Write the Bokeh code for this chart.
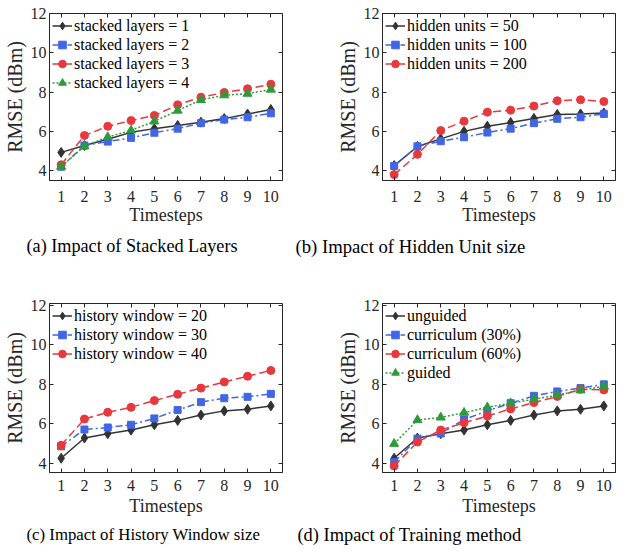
from bokeh.plotting import figure
from bokeh.models import Range1d, LinearAxis, Title, FixedTicker
from bokeh.layouts import column, row
from bokeh.embed import file_html
from bokeh.resources import INLINE

timesteps = [1, 2, 3, 4, 5, 6, 7, 8, 9, 10]
x_ticks = [1, 2, 3, 4, 5, 6, 7, 8, 9, 10]
y_ticks = [4, 6, 8, 10, 12]

# (a) stacked layers
layers_1 = [4.93, 5.28, 5.60, 5.95, 6.14, 6.30, 6.47, 6.65, 6.88, 7.11]
layers_2 = [4.20, 5.28, 5.48, 5.67, 5.93, 6.14, 6.42, 6.60, 6.72, 6.92]
layers_3 = [4.30, 5.79, 6.26, 6.55, 6.81, 7.35, 7.74, 7.98, 8.17, 8.40]
layers_4 = [4.21, 5.25, 5.71, 6.05, 6.51, 7.06, 7.60, 7.84, 7.92, 8.13]

# (b) hidden units
hidden_50 = [4.26, 5.23, 5.62, 6.00, 6.26, 6.45, 6.66, 6.86, 6.89, 6.94]
hidden_100 = [4.24, 5.24, 5.50, 5.70, 5.94, 6.14, 6.42, 6.64, 6.72, 6.89]
hidden_200 = [3.80, 4.83, 6.04, 6.52, 6.98, 7.08, 7.29, 7.56, 7.61, 7.52]

# (c) history window
window_20 = [4.27, 5.29, 5.51, 5.69, 5.96, 6.18, 6.45, 6.66, 6.74, 6.91]
window_30 = [4.87, 5.72, 5.82, 5.96, 6.28, 6.70, 7.10, 7.30, 7.37, 7.52]
window_40 = [4.92, 6.25, 6.59, 6.84, 7.18, 7.50, 7.81, 8.12, 8.41, 8.70]

# (d) training method
unguided = [4.27, 5.29, 5.51, 5.69, 5.96, 6.18, 6.45, 6.66, 6.74, 6.91]
curriculum_30 = [4.07, 5.26, 5.52, 6.22, 6.66, 7.05, 7.42, 7.64, 7.81, 8.00]
curriculum_60 = [3.88, 5.09, 5.69, 6.06, 6.40, 6.76, 7.08, 7.39, 7.75, 7.72]
guided = [5.00, 6.20, 6.33, 6.57, 6.84, 7.05, 7.25, 7.45, 7.70, 7.90]

captions = ["(a) Impact of Stacked Layers", "(b) Impact of Hidden Unit size",
            "(c) Impact of History Window size", "(d) Impact of Training method"]

FONT = "Liberation Serif"
AX = "#262626"
BLACK = "#333333"
BLUE = "#4166E3"
RED = "#E8383D"
GREEN = "#2E9B3A"

STYLE = {
    "black": (BLACK, "solid", "diamond", 10),
    "blue": (BLUE, "7 3 2 3", "square", 7),
    "red": (RED, "8 4", "circle", 8),
    "green": (GREEN, "2 2", "triangle", 9),
}


def make_panel(width, height, left, right, top, bottom, yr, series, caption, cap_offset,
               cap_size, tick_standoff, label_standoff, cap_standoff):
    p = figure(width=width, height=height, output_backend="svg", toolbar_location=None,
               x_range=Range1d(0.5, 10.5), y_range=Range1d(*yr),
               min_border_left=left, min_border_right=right,
               min_border_top=top, min_border_bottom=bottom,
               x_axis_label="Timesteps", y_axis_label="RMSE (dBm)")
    p.grid.visible = False
    p.outline_line_color = AX
    p.outline_line_width = 1
    p.xaxis.ticker = FixedTicker(ticks=x_ticks)
    p.yaxis.ticker = FixedTicker(ticks=y_ticks)
    for ax in (p.xaxis[0], p.yaxis[0]):
        ax.major_tick_in = 4
        ax.major_tick_out = 0
        ax.minor_tick_line_color = None
        ax.axis_line_color = AX
        ax.major_tick_line_color = AX
        ax.major_label_text_font = FONT
        ax.major_label_text_font_size = "16px"
        ax.major_label_text_color = AX
        ax.axis_label_text_font = FONT
        ax.axis_label_text_font_size = "18px"
        ax.axis_label_text_font_style = "normal"
        ax.axis_label_text_color = AX
    p.yaxis.axis_label_text_font_size = "20px"
    p.xaxis.major_label_standoff = tick_standoff
    p.xaxis.axis_label_standoff = label_standoff
    p.yaxis.major_label_standoff = 3
    p.yaxis.axis_label_standoff = 2
    for loc, tk in (("right", y_ticks), ("above", x_ticks)):
        ax = LinearAxis(ticker=FixedTicker(ticks=tk), major_label_text_font_size="0px",
                        major_label_text_color=None,
                        major_label_standoff=0, axis_line_color=None, major_tick_in=4,
                        major_tick_out=0, minor_tick_line_color=None,
                        major_tick_line_color=AX)
        p.add_layout(ax, loc)

    for label, vals, key in series:
        color, dash, marker, size = STYLE[key]
        p.line(timesteps, vals, line_color=color, line_width=1.5, line_dash=dash,
               legend_label=label)
        p.scatter(timesteps, vals, marker=marker, size=size, fill_color=color,
                  line_color=color, legend_label=label)

    lg = p.legend[0]
    lg.location = "top_left"
    lg.margin = 0
    lg.padding = 3
    lg.spacing = 0
    lg.glyph_width = 20
    lg.glyph_height = 19
    lg.label_height = 19
    lg.label_standoff = 2
    lg.label_text_font = FONT
    lg.label_text_font_size = "16px"
    lg.label_text_color = "black"
    lg.border_line_alpha = 0
    lg.background_fill_alpha = 0

    p.add_layout(Title(text=caption, align="left", offset=cap_offset, text_font=FONT,
                       text_font_size=cap_size, text_font_style="normal",
                       text_color="black", standoff=cap_standoff), "below")
    return p


pa = make_panel(293, 270, 48, 11, 13, 90, (3.5, 12.0),
                [("stacked layers = 1", layers_1, "black"),
                 ("stacked layers = 2", layers_2, "blue"),
                 ("stacked layers = 3", layers_3, "red"),
                 ("stacked layers = 4", layers_4, "green")], captions[0], -23, "18.2px",
                10, 0, 13)
pb = make_panel(326, 270, 89, 4, 13, 90, (3.5, 12.0),
                [("hidden units = 50", hidden_50, "black"),
                 ("hidden units = 100", hidden_100, "blue"),
                 ("hidden units = 200", hidden_200, "red")], captions[1], -87, "18.7px",
                10, 0, 12)
pc = make_panel(293, 279, 48, 11, 33, 77, (3.55, 12.08),
                [("history window = 20", window_20, "black"),
                 ("history window = 30", window_30, "blue"),
                 ("history window = 40", window_40, "red")], captions[2], -23, "16.8px",
                7, 2, 9)
pd = make_panel(326, 279, 89, 4, 33, 77, (3.55, 12.08),
                [("unguided", unguided, "black"),
                 ("curriculum (30%)", curriculum_30, "blue"),
                 ("curriculum (60%)", curriculum_60, "red"),
                 ("guided", guided, "green")], captions[3], -85, "18.4px",
                7, 2, 8)

layout = column(row(pa, pb), row(pc, pd))
open("out.html", "w").write(file_html(layout, INLINE))
